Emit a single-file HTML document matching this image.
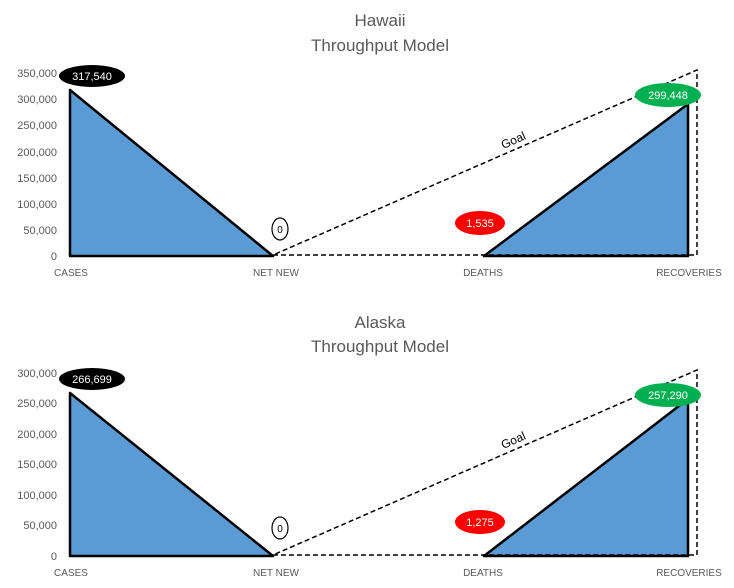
<!DOCTYPE html>
<html><head><style>
html,body{margin:0;padding:0;background:#fff;}
svg{display:block;font-family:"Liberation Sans",sans-serif;}
</style></head><body>
<svg width="734" height="588" viewBox="0 0 734 588" xmlns="http://www.w3.org/2000/svg">
<g fill="#595959" font-size="17" text-anchor="middle">
<text x="380" y="26">Hawaii</text>
<text x="380" y="51">Throughput Model</text>
<text x="380" y="328">Alaska</text>
<text x="380" y="352">Throughput Model</text>
</g>
<g fill="#595959" font-size="11" text-anchor="end">
<text x="57" y="77">350,000</text><text x="57" y="103">300,000</text><text x="57" y="129">250,000</text>
<text x="57" y="156">200,000</text><text x="57" y="182">150,000</text><text x="57" y="208">100,000</text>
<text x="57" y="234">50,000</text><text x="57" y="260">0</text>
<text x="57" y="377">300,000</text><text x="57" y="407">250,000</text><text x="57" y="438">200,000</text>
<text x="57" y="468">150,000</text><text x="57" y="499">100,000</text><text x="57" y="529">50,000</text>
<text x="57" y="560">0</text>
</g>
<g fill="#595959" font-size="10" text-anchor="middle">
<text x="71" y="276">CASES</text><text x="276" y="276">NET NEW</text><text x="483" y="276">DEATHS</text><text x="689" y="276">RECOVERIES</text>
<text x="71" y="576">CASES</text><text x="276" y="576">NET NEW</text><text x="483" y="576">DEATHS</text><text x="689" y="576">RECOVERIES</text>
</g>
<!-- Hawaii -->
<polygon points="70,90 70,256 273,256" fill="#5b9bd5" stroke="#000" stroke-width="2.5" stroke-linejoin="round"/>
<polygon points="484,256 688,104 688,256" fill="#5b9bd5" stroke="#000" stroke-width="2.5" stroke-linejoin="round"/>
<line x1="70" y1="256" x2="273" y2="256" stroke="#000" stroke-width="2"/>
<g stroke="#000" stroke-width="1.5" stroke-dasharray="5,3" fill="none">
<polyline points="273,255 697,255 697,70 273,255"/>
</g>
<text x="515" y="144" font-size="12" transform="rotate(-24 515 144)" text-anchor="middle" fill="#000">Goal</text>
<ellipse cx="92" cy="76" rx="33" ry="11" fill="#000"/>
<text x="92" y="80" font-size="11" fill="#fff" text-anchor="middle">317,540</text>
<ellipse cx="280" cy="229" rx="8" ry="11" fill="#fff" stroke="#000" stroke-width="1.2"/>
<text x="280" y="233" font-size="10" text-anchor="middle" fill="#000">0</text>
<ellipse cx="480" cy="223" rx="25" ry="12" fill="#ff0000"/>
<text x="480" y="227" font-size="11" fill="#fff" text-anchor="middle">1,535</text>
<ellipse cx="668" cy="95" rx="33" ry="12" fill="#00b050"/>
<text x="668" y="99" font-size="11" fill="#fff" text-anchor="middle">299,448</text>
<!-- Alaska -->
<polygon points="70,393 70,556 273,556" fill="#5b9bd5" stroke="#000" stroke-width="2.5" stroke-linejoin="round"/>
<polygon points="484,556 688,399 688,556" fill="#5b9bd5" stroke="#000" stroke-width="2.5" stroke-linejoin="round"/>
<line x1="70" y1="556" x2="273" y2="556" stroke="#000" stroke-width="2"/>
<g stroke="#000" stroke-width="1.5" stroke-dasharray="5,3" fill="none">
<polyline points="273,555 697,555 697,370 273,555"/>
</g>
<text x="515" y="444" font-size="12" transform="rotate(-24 515 444)" text-anchor="middle" fill="#000">Goal</text>
<ellipse cx="92" cy="379" rx="33" ry="11" fill="#000"/>
<text x="92" y="383" font-size="11" fill="#fff" text-anchor="middle">266,699</text>
<ellipse cx="280" cy="528" rx="8" ry="11" fill="#fff" stroke="#000" stroke-width="1.2"/>
<text x="280" y="532" font-size="10" text-anchor="middle" fill="#000">0</text>
<ellipse cx="480" cy="522" rx="25" ry="12" fill="#ff0000"/>
<text x="480" y="526" font-size="11" fill="#fff" text-anchor="middle">1,275</text>
<ellipse cx="668" cy="395" rx="33" ry="12" fill="#00b050"/>
<text x="668" y="399" font-size="11" fill="#fff" text-anchor="middle">257,290</text>
</svg>
</body></html>
